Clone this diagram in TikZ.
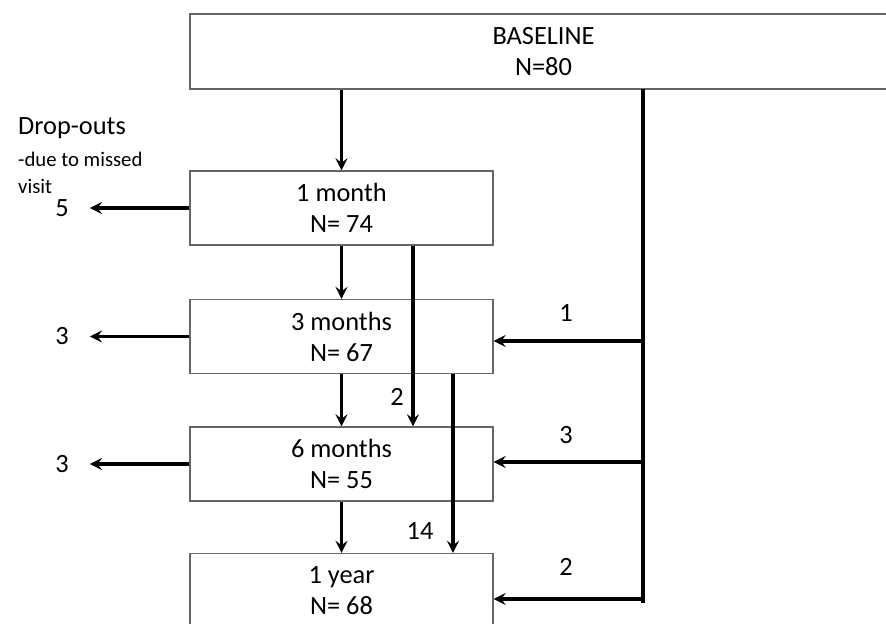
\documentclass[tikz,border=0pt]{standalone}
\usepackage{fontspec}
\setmainfont{Carlito}
\usepackage{tikz}

\begin{document}
\begin{tikzpicture}[flow/.style={line width=2pt, ->, >=stealth}]
                \clip (0,0) rectangle (17.72,-12.46);
                \begin{scope}[every node/.style={draw=black!60, line width=0.6pt, rectangle, align=center, minimum width=6.06cm, minimum height=1.48cm, font=\fontsize{15}{17.6}\selectfont}]
                        \node (Base) at (10.87,-1.03) [minimum width=14.14cm, minimum height=1.5cm] {BASELINE\\N=80};
                        \node (Month1) at (6.83,-4.16) {1 month\\N= 74};
                        \node (Month3) at (6.83,-6.73) {3 months\\N= 67};
                        \node (Month6) at (6.83,-9.28) {6 months\\N= 55};
                        \node (Year1) at (6.83,-11.81) {1 year\\N= 68};
                \end{scope}
                \begin{scope}[every node/.style={font=\fontsize{15}{17.6}\selectfont}]
                        \node (Drop) at (0.24,-2.68) [anchor=base west] {Drop-outs};
                        \node (Due) at (0.24,-3.32) [anchor=base west, font=\fontsize{11.8}{14}\selectfont] {-due to missed};
                        \node (Visit) at (0.24,-3.86) [anchor=base west, font=\fontsize{11.8}{14}\selectfont] {visit};
                        \node (Out1) at (1.24,-4.16) {5};
                        \node (Out3) at (1.24,-6.73) {3};
                        \node (Out6) at (1.24,-9.28) {3};
                        \node (Skip1) at (7.94,-7.94) {2};
                        \node (Skip3) at (8.40,-10.62) {14};
                        \node (Back3) at (11.32,-6.26) {1};
                        \node (Back6) at (11.32,-8.70) {3};
                        \node (Back12) at (11.32,-11.34) {2};
                \end{scope}
                \coordinate (RTop) at (12.86,-1.78);
                \coordinate (RBot) at (12.86,-12.06);
                \coordinate (R3) at (12.86,-6.82);
                \coordinate (R6) at (12.86,-9.24);
                \coordinate (R12) at (12.86,-11.98);
                \draw[line width=2pt] (RTop) -- (RBot);
                \draw[flow] (Base.south -| Month1) -- (Month1);
                \draw[flow] (Month1) -- (Month3);
                \draw[flow] (Month3) -- (Month6);
                \draw[flow] (Month6) -- (Year1);
                \draw[flow] ([xshift=1.43cm]Month1.south) -- ([xshift=1.43cm]Month6.north);
                \draw[flow] ([xshift=2.23cm]Month3.south) -- ([xshift=2.23cm]Year1.north);
                \draw[flow, shorten >=0.3cm] (Month1) -- (Out1);
                \draw[flow, shorten >=0.3cm] (Month3) -- (Out3);
                \draw[flow, shorten >=0.3cm] (Month6) -- (Out6);
                \draw[flow] (R3) -- (Month3.east |- R3);
                \draw[flow] (R6) -- (Month6.east |- R6);
                \draw[flow] (R12) -- (Year1.east |- R12);
        \end{tikzpicture}
\end{document}
